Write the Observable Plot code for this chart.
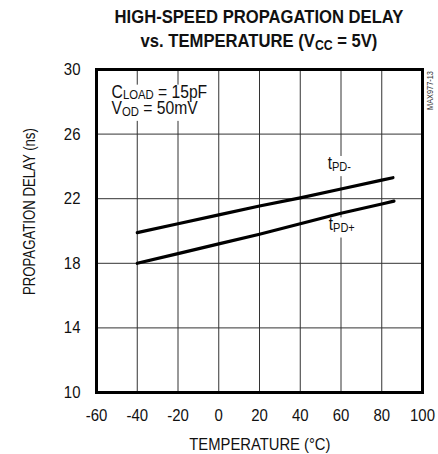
<!DOCTYPE html>
<html>
<head>
<meta charset="utf-8">
<script src="https://cdn.jsdelivr.net/npm/d3@7"></script>
<script src="https://cdn.jsdelivr.net/npm/@observablehq/plot@0.6"></script>
<style>
  html, body { margin: 0; padding: 0; background: #fff; }
  #wrap { width: 438px; height: 454px; position: relative; font-family: "Liberation Sans", Arial, sans-serif; overflow: hidden; }
  .tl { position: absolute; left: 59px; width: 400px; text-align: center; font-weight: bold; font-size: 19px; line-height: 19px; color: #111; white-space: nowrap; transform: scaleX(0.875); transform-origin: 200px 50%; }
  .tl sub { font-size: 14px; vertical-align: -3px; line-height: 0; }
  #chart { position: absolute; left: 0; top: 60px; }
</style>
</head>
<body>
<div id="wrap">
  <div class="tl" style="top:7px">HIGH-SPEED PROPAGATION DELAY</div>
  <div class="tl" style="top:31px">vs. TEMPERATURE (V<sub>CC</sub> = 5V)</div>
  <div id="chart"></div>
</div>
<script>
// ---- data ----
const temps = [-40, -20, 0, 20, 40, 60, 80, 85.5];
const tpdMinus = [19.9, 20.45, 21.0, 21.55, 22.05, 22.6, 23.15, 23.3];
const tempsPlus = [-40, -20, 0, 20, 40, 60, 80, 86];
const tpdPlus = [18.0, 18.6, 19.2, 19.8, 20.45, 21.1, 21.67, 21.85];
const xTicks = [-60, -40, -20, 0, 20, 40, 60, 80, 100];
const yTicks = [10, 14, 18, 22, 26, 30];
const xLabel = "TEMPERATURE (°C)";
const yLabel = "PROPAGATION DELAY (ns)";
const noteTexts = ["C{LOAD} = 15pF", "V{OD} = 50mV"];
const curveTexts = ["t{PD-}", "t{PD+}"];
const watermark = "MAX977-13";

const rows = [
  ...temps.map((t, i) => ({temp: t, delay: tpdMinus[i], series: "tPD-"})),
  ...tempsPlus.map((t, i) => ({temp: t, delay: tpdPlus[i], series: "tPD+"}))
];

const font = "Liberation Sans, Arial, sans-serif";

const chart = Plot.plot({
  width: 438,
  height: 394,
  marginTop: 9,
  marginBottom: 62,
  marginLeft: 96,
  marginRight: 16,
  style: {fontFamily: font, fontSize: "17px", color: "#111", background: "#fff", overflow: "visible"},
  x: {domain: [-60, 100]},
  y: {domain: [10, 30]},
  marks: [
    Plot.gridX(xTicks.slice(1, -1), {stroke: "#333", strokeOpacity: 1, strokeWidth: 1}),
    Plot.gridY(yTicks.slice(1, -1), {stroke: "#333", strokeOpacity: 1, strokeWidth: 1}),
    Plot.axisX(xTicks, {tickSize: 0, tickPadding: 16, tickFormat: d => String(d), label: null, fontSize: 17, className: "ticks"}),
    Plot.axisY(yTicks, {tickSize: 0, tickPadding: 16, tickFormat: d => String(d), label: null, fontSize: 17, className: "ticks"}),
    Plot.line(rows, {x: "temp", y: "delay", z: "series", stroke: "#000", strokeWidth: 3.2, className: "curve"}),
    Plot.frame({stroke: "#000", strokeWidth: 3}),
    Plot.text(noteTexts, {x: () => -52.6, y: (d, i) => [28.62, 27.59][i], text: d => d, textAnchor: "start", fontSize: 18, fill: "#111", className: "rich notes"}),
    Plot.text(curveTexts, {x: (d, i) => [53.5, 54.0][i], y: (d, i) => [24.2, 20.4][i], text: d => d, textAnchor: "start", fontSize: 18, fill: "#111", className: "rich curves"}),
    Plot.text([yLabel], {x: () => -92.9, y: () => 21.2, text: d => d, rotate: -90, fontSize: 16.5, fill: "#111", className: "ylab"}),
    Plot.text([xLabel], {x: () => 20.2, y: () => 6.8, text: d => d, fontSize: 17, fill: "#111", className: "xlab"}),
    Plot.text([watermark], {x: () => 103.9, y: () => 28.7, text: d => d, rotate: -90, fontSize: 9, fill: "#333", className: "wm"})
  ]
});

// subscripts: "{...}" becomes a lowered, smaller tspan
d3.select(chart).selectAll("g.rich text").each(function() {
  const s = this.textContent;
  const node = d3.select(this);
  const isNote = this.parentNode.classList.contains("notes");
  const shift = isNote ? 1.5 : 2;
  const subSize = 13;
  node.text(null);
  const parts = s.split(/(\{[^}]*\})/).filter(p => p.length);
  let lowered = false;
  for (const p of parts) {
    if (p.startsWith("{")) {
      node.append("tspan").attr("font-size", subSize).attr("dy", lowered ? 0 : shift).text(p.slice(1, -1));
      lowered = true;
    } else {
      node.append("tspan").attr("dy", lowered ? -shift : 0).text(p);
      lowered = false;
    }
  }
});

// narrow the glyphs horizontally around each text's own anchor
const squeezeBy = {ticks: 0.88, notes: 0.87, curves: 0.85, ylab: 0.8, xlab: 0.87, wm: 0.82};
d3.select(chart).selectAll("text").each(function() {
  let g = this.parentNode, k = 0.88;
  for (const c in squeezeBy) if (g.classList && g.classList.contains(c)) k = squeezeBy[c];
  const t = this.getAttribute("transform") || "";
  const xa = this.getAttribute("x");
  let extra = "";
  if (xa != null && !isNaN(+xa)) { extra = `translate(${+xa},0) `; this.removeAttribute("x"); }
  this.setAttribute("transform", `${t} ${extra}scale(${k},1)`.trim());
});

document.getElementById("chart").appendChild(chart);

// white boxes behind the in-plot labels (drawn under the curves and texts), as in the reference
const curveG = chart.querySelector("g.curve");
const bg = d3.select(curveG.parentNode).insert("g", () => curveG).attr("class", "label-bg");
d3.select(chart).selectAll("g.rich text").each(function() {
  const b = this.getBBox();
  const gT = this.parentNode.getAttribute("transform") || "";
  const top = b.y + b.height * 0.15;
  bg.append("rect")
    .attr("transform", `${gT} ${this.getAttribute("transform") || ""}`.trim())
    .attr("x", b.x - 3).attr("y", top).attr("width", b.width + 6).attr("height", b.y + b.height + 2 - top)
    .attr("fill", "#fff");
});
</script>
</body>
</html>
